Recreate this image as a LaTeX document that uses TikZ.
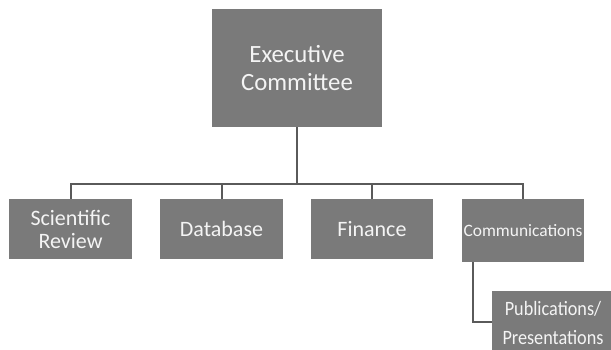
\documentclass[tikz,border=0pt]{standalone}
\usepackage{fontspec}
\usepackage{graphicx}
\setmainfont{Carlito}
\definecolor{boxgray}{HTML}{7A7A7A}
\definecolor{linegray}{HTML}{5A5A5A}
\definecolor{txt}{HTML}{F4F4F4}
\begin{document}
\begin{tikzpicture}[x=1pt,y=-1pt,
  orgbox/.style={fill=boxgray,draw=none,text=txt,align=center,inner sep=0pt},
  conn/.style={draw=linegray,line width=2pt}]
\useasboundingbox (0,0) rectangle (611,350);
\node[orgbox,minimum width=170pt,minimum height=118pt,font=\fontsize{24.8}{28}\selectfont] (exec) at (297,68) {Executive\\Committee};
\node[orgbox,minimum width=123pt,minimum height=60pt,font=\fontsize{22}{23}\selectfont] (sci) at (70.5,229) {Scientific\\Review};
\node[orgbox,minimum width=123pt,minimum height=60pt,font=\fontsize{22}{23}\selectfont] (db) at (221.5,229) {Database};
\node[orgbox,minimum width=122pt,minimum height=60pt,font=\fontsize{22}{23}\selectfont] (fin) at (372,229) {Finance};
\node[orgbox,minimum width=122pt,minimum height=63pt,font=\fontsize{17.4}{20}\selectfont] (comm) at (523,230.5) {Communications};
\node[orgbox,minimum width=122pt,minimum height=62pt,anchor=north west] (pub) at (492,291) {};
\node[text=txt,inner sep=0pt,font=\fontsize{18.2}{26}\selectfont] (pubtxt) at (553,324) {\scalebox{1}[1.12]{\begin{tabular}{@{}c@{}}Publications/\\Presentations\end{tabular}}};
\coordinate (bus) at (297,184);
\draw[conn] (exec.south) -- (bus);
\draw[conn] (sci.north) |- (bus) -| (comm.north);
\draw[conn] (db.north) -- (db.north |- bus);
\draw[conn] (fin.north) -- (fin.north |- bus);
\draw[conn] (comm.south -| 473,0) |- (pub.west |- 0,322);
\end{tikzpicture}
\end{document}
